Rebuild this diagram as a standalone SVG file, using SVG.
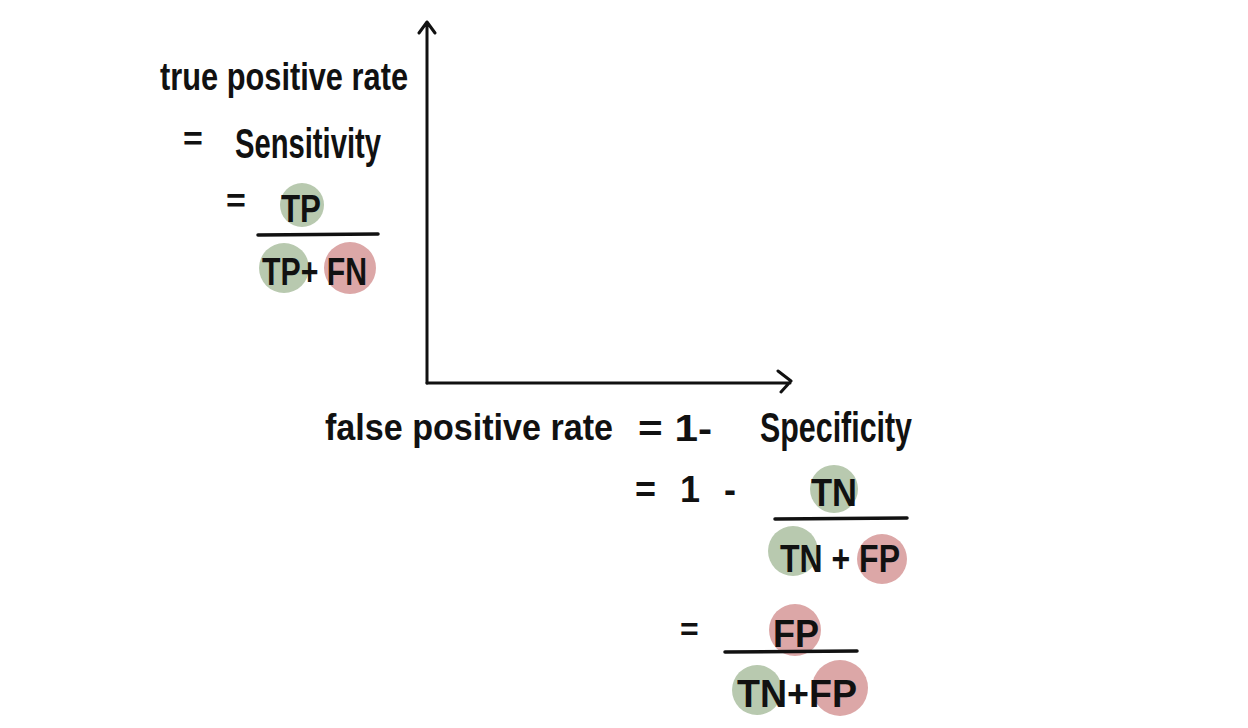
<svg xmlns="http://www.w3.org/2000/svg" width="1248" height="728" viewBox="0 0 1248 728">
<defs>
<style>
.t{font-family:"Liberation Sans","DejaVu Sans",sans-serif;fill:#111;font-weight:bold}
.ax{stroke:#111;stroke-width:3;fill:none;stroke-linecap:round;stroke-linejoin:round}
.bar{stroke:#111;stroke-width:3.5;stroke-linecap:round}
.g{fill:#b8c9af}
.r{fill:#dca7a7}
</style>
</defs>
<rect width="1248" height="728" fill="#fff"/>
<g id="connectors">
<path class="ax" d="M427,383 L427,22 M419,33 L427,22 L435,33"/>
<path class="ax" d="M427,383 L790,383 M778,371 L791,381 L781,392"/>
</g>
<g id="tpr">
<text class="t" x="160" y="90" font-size="38" textLength="248" lengthAdjust="spacingAndGlyphs">true positive rate</text>
<text class="t" x="183" y="150" font-size="34">=</text>
<text class="t" x="235" y="158" font-size="42" textLength="146" lengthAdjust="spacingAndGlyphs">Sensitivity</text>
<text class="t" x="226" y="212" font-size="34">=</text>
<circle class="g" cx="302" cy="205" r="22"/>
<text class="t" x="281" y="222" font-size="38" textLength="40" lengthAdjust="spacingAndGlyphs">TP</text>
<line class="bar" x1="258" y1="235" x2="378" y2="234"/>
<circle class="g" cx="284" cy="268" r="25"/>
<circle class="r" cx="350" cy="268" r="26"/>
<text class="t" x="262" y="285" font-size="38" textLength="105" lengthAdjust="spacingAndGlyphs">TP+ FN</text>
</g>
<g id="fpr">
<text class="t" x="325" y="440" font-size="36" textLength="288" lengthAdjust="spacingAndGlyphs">false positive rate</text>
<text class="t" x="638" y="441" font-size="36" textLength="74" lengthAdjust="spacingAndGlyphs">= 1-</text>
<text class="t" x="760" y="442" font-size="42" textLength="152" lengthAdjust="spacingAndGlyphs">Specificity</text>
<text class="t" x="635" y="502" font-size="36" word-spacing="14">= 1 -</text>
<circle class="g" cx="834" cy="489" r="24"/>
<text class="t" x="811" y="506" font-size="38" textLength="46" lengthAdjust="spacingAndGlyphs">TN</text>
<line class="bar" x1="775" y1="519" x2="907" y2="518"/>
<circle class="g" cx="793" cy="551" r="25"/>
<circle class="r" cx="882" cy="559" r="25"/>
<text class="t" x="780" y="572" font-size="38" textLength="120" lengthAdjust="spacingAndGlyphs">TN + FP</text>
<text class="t" x="680" y="640" font-size="32">=</text>
<circle class="r" cx="795" cy="630" r="26"/>
<text class="t" x="773" y="647" font-size="38" textLength="46" lengthAdjust="spacingAndGlyphs">FP</text>
<line class="bar" x1="725" y1="652" x2="857" y2="651"/>
<circle class="g" cx="757" cy="690" r="25"/>
<circle class="r" cx="840" cy="688" r="28"/>
<text class="t" x="737" y="707" font-size="38" textLength="120" lengthAdjust="spacingAndGlyphs">TN+FP</text>
</g>
</svg>
